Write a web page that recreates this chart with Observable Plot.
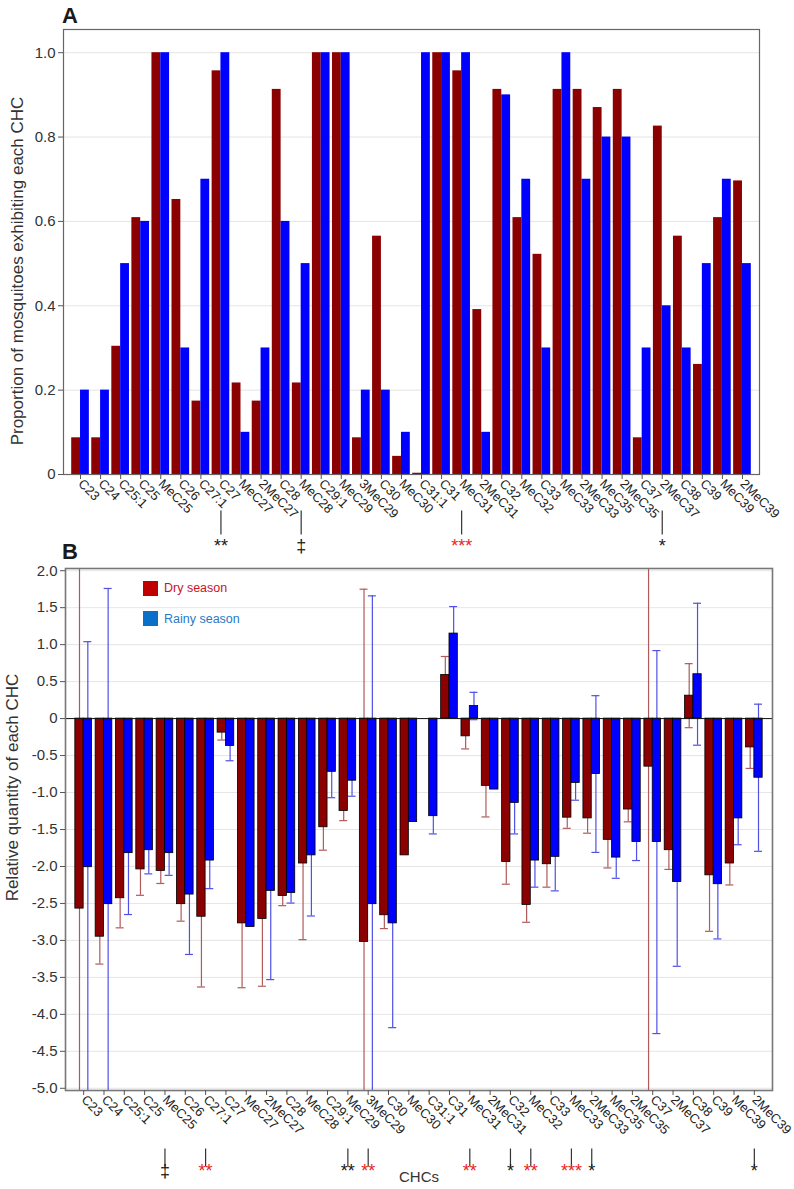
<!DOCTYPE html>
<html><head><meta charset="utf-8">
<script src="https://cdn.jsdelivr.net/npm/d3@7"></script>
<script src="https://cdn.jsdelivr.net/npm/@observablehq/plot@0.6"></script>
<style>
body{margin:0;background:#fff;font-family:"Liberation Sans",Arial,sans-serif;}
#wrap{position:relative;width:794px;height:1189px;overflow:hidden;background:#fff}
#wrap svg{display:block}
.panel{position:absolute;font-weight:bold;font-size:22px;color:#1a1a1a;line-height:1}
.leg{position:absolute;font-size:12.5px;line-height:1}
.sw{position:absolute;width:15px;height:15px}
</style></head><body>
<div id="wrap"></div>
<script>
// ---------- data ----------
const chc = ["C23","C24","C25:1","C25","MeC25","C26","C27:1","C27","MeC27","2MeC27","C28","MeC28","C29:1","MeC29","3MeC29","C30","MeC30","C31:1","C31","MeC31","2MeC31","C32","MeC32","C33","MeC33","2MeC33","MeC35","2MeC35","C37","2MeC37","C38","C39","MeC39","2MeC39"];

// Panel A: proportion of mosquitoes exhibiting each CHC
const dryA   = [0.087,0.087,0.304,0.609,1.0,0.652,0.174,0.957,0.217,0.174,0.913,0.217,1.0,1.0,0.087,0.565,0.043,0.003,1.0,0.957,0.391,0.913,0.609,0.522,0.913,0.913,0.870,0.913,0.087,0.826,0.565,0.261,0.609,0.696];
const rainyA = [0.2,0.2,0.5,0.6,1.0,0.3,0.7,1.0,0.1,0.3,0.6,0.5,1.0,1.0,0.2,0.2,0.1,1.0,1.0,1.0,0.1,0.9,0.7,0.3,1.0,0.7,0.8,0.8,0.3,0.4,0.3,0.5,0.7,0.5];

// Panel B: relative quantity (mean and error)
const dryB      = [-2.57,-2.95,-2.43,-2.04,-2.06,-2.51,-2.68,-0.19,-2.77,-2.71,-2.40,-1.96,-1.47,-1.25,-3.02,-2.66,-1.85,null,0.59,-0.24,-0.91,-1.94,-2.52,-1.97,-1.34,-1.35,-1.64,-1.23,-0.65,-1.78,0.31,-2.12,-1.96,-0.39];
const dryErrB   = [4.8,0.37,0.40,0.35,0.17,0.23,0.95,0.10,0.87,0.91,0.13,1.03,0.31,0.13,4.77,0.18,0,null,0.25,0.17,0.42,0.30,0.235,0.31,0.144,0.20,0.38,0.166,4.6,0.26,0.433,0.757,0.29,0.284];
const rainyB    = [-2.01,-2.51,-1.82,-1.78,-1.82,-2.38,-1.92,-0.37,-2.82,-2.33,-2.36,-1.85,-0.72,-0.84,-2.51,-2.77,-1.40,-1.32,1.15,0.17,-0.96,-1.14,-1.92,-1.87,-0.87,-0.75,-1.88,-1.67,-1.67,-2.21,0.60,-2.24,-1.35,-0.80];
const rainyErrB = [3.05,4.27,0.83,0.32,0.30,0.81,0.38,0.20,0,1.20,0.135,0.82,0.35,0.21,4.17,1.41,0,0.24,0.365,0.185,0,0.42,0.36,0.46,0.234,1.06,0.28,0.25,2.59,1.14,0.96,0.74,0.356,0.995];

const yTicksA = [0, 0.2, 0.4, 0.6, 0.8, 1.0];
const yTicksB = [-5.0,-4.5,-4.0,-3.5,-3.0,-2.5,-2.0,-1.5,-1.0,-0.5,0,0.5,1.0,1.5,2.0];

// significance annotations
const sigAChc   = ["C27","MeC28","MeC31","2MeC37"];
const sigAMark  = ["**","‡","***","*"];
const sigARed   = [false,false,true,false];
const sigBChc   = ["MeC25","C27:1","MeC29","3MeC29","MeC31","C32","MeC32","MeC33","2MeC33","2MeC39"];
const sigBMark  = ["‡","**","**","**","**","*","**","***","*","*"];
const sigBRed   = [false,true,false,true,true,false,true,true,false,false];

const seriesNames = ["Dry season","Rainy season"];

// ---------- tables ----------
const dataA = chc.map((c,i)=>({chc:c, dry:dryA[i], rainy:rainyA[i]}));
const dataB = chc.map((c,i)=>({chc:c, dry:dryB[i], dryErr:dryErrB[i], rainy:rainyB[i], rainyErr:rainyErrB[i]}));
const RED_SIG = "#e8251f", BLACK_SIG = "#1a1a1a";
const sigA = sigAChc.map((c,i)=>({chc:c, mark:sigAMark[i], color: sigARed[i]?RED_SIG:BLACK_SIG}));
const sigB = sigBChc.map((c,i)=>({chc:c, mark:sigBMark[i], color: sigBRed[i]?RED_SIG:BLACK_SIG}));

const DRY = "#8b0000", RAINY = "#0000ff";
const fmt = d => d === 0 ? "0" : d.toFixed(1);
const vline = {draw(ctx, size){ const h = Math.sqrt(size/Math.PI); ctx.moveTo(0,-h); ctx.lineTo(0,h); }};
const font = {fontFamily:'"Liberation Sans", Arial, sans-serif', fontSize:"13px", color:"#222", background:"#fff", overflow:"visible"};

// ---------- panel A ----------
const W = 794;
const A = {h:556, ml:63, mr:35, mt:29, mb:82, inset:7, pi:0.12, po:0.06};
const bwA = ((W-A.mr-A.inset)-(A.ml+A.inset)) / (chc.length - A.pi + 2*A.po) * (1-A.pi);

const plotA = Plot.plot({
  width: W, height: A.h,
  marginLeft: A.ml, marginRight: A.mr, marginTop: A.mt, marginBottom: A.mb,
  style: font,
  x: {domain: chc, paddingInner: A.pi, paddingOuter: A.po, insetLeft: A.inset, insetRight: A.inset, round: false, label: null},
  y: {domain: [0, 1.055], label: null},
  color: {type: "identity"},
  marks: [
    Plot.gridY({ticks: yTicksA.filter(d=>d>0), stroke:"#cfcfcf", strokeOpacity: 0.55}),
    Plot.barY(dataA, {x:"chc", y:"dry", fill: DRY, insetRight: bwA/2}),
    Plot.barY(dataA, {x:"chc", y:"rainy", fill: RAINY, insetLeft: bwA/2}),
    Plot.frame({stroke:"#666", strokeWidth:1.2}),
    Plot.axisY({ticks: yTicksA, tickFormat: fmt, tickSize: 5, tickPadding: 3, fontSize: 15, label: null, stroke:"#555", fill:"#333"}),
    Plot.axisX({tickRotate: 45, tickSize: 5, tickPadding: 2, fontSize: 13, label: null, stroke:"#555", fill:"#222"}),
    Plot.text(["Proportion of mosquitoes exhibiting each CHC"], {text: d=>d, frameAnchor:"left", textAnchor:"middle", rotate:-90, dx:-46, dy:19, fontSize:17, fill:"#333"}),
    Plot.dot(sigA, {x:"chc", frameAnchor:"bottom", dy:48, symbol: vline, r:12, fill:"none", stroke:"#333", strokeWidth:1.2}),
    Plot.text(sigA, {x:"chc", frameAnchor:"bottom", dy:77, text:"mark", fill:"color", fontSize:18})
  ]
});

// ---------- panel B ----------
const B = {h:633, ml:65, mr:22, mt:12, mb:99, inset:8, pi:0.18, po:0.09};
const bwB = ((W-B.mr-B.inset)-(B.ml+B.inset)) / (chc.length - B.pi + 2*B.po) * (1-B.pi);
const q = bwB/4, capHalf = 4;
const errDry = dataB.filter(d=>d.dry!=null && d.dryErr>0);
const errRainy = dataB.filter(d=>d.rainy!=null && d.rainyErr>0);
const ERR_DRY = "#b05a5a", ERR_RAINY = "#5050e6";
const capInset = bwB/2 - capHalf;

const plotB = Plot.plot({
  width: W, height: B.h,
  marginLeft: B.ml, marginRight: B.mr, marginTop: B.mt, marginBottom: B.mb,
  style: font,
  x: {domain: chc, paddingInner: B.pi, paddingOuter: B.po, insetLeft: B.inset, insetRight: B.inset, round: false, label: null},
  y: {domain: [-5.03, 2.03], label: null},
  color: {type: "identity"},
  marks: [
    Plot.gridY({ticks: yTicksB, stroke:"#cfcfcf", strokeOpacity: 0.55}),
    // error bars (behind bars)
    Plot.ruleX(errDry, {x:"chc", y1: d=>d.dry-d.dryErr, y2: d=>d.dry+d.dryErr, dx:-q, stroke: ERR_DRY, strokeWidth:1.2, clip:true}),
    Plot.ruleX(errRainy, {x:"chc", y1: d=>d.rainy-d.rainyErr, y2: d=>d.rainy+d.rainyErr, dx:q, stroke: ERR_RAINY, strokeWidth:1.2, clip:true}),
    Plot.tickY(errDry, {x:"chc", y: d=>d.dry-d.dryErr, dx:-q, insetLeft:capInset, insetRight:capInset, stroke: ERR_DRY, strokeWidth:1.2, clip:true}),
    Plot.tickY(errDry, {x:"chc", y: d=>d.dry+d.dryErr, dx:-q, insetLeft:capInset, insetRight:capInset, stroke: ERR_DRY, strokeWidth:1.2, clip:true}),
    Plot.tickY(errRainy, {x:"chc", y: d=>d.rainy-d.rainyErr, dx:q, insetLeft:capInset, insetRight:capInset, stroke: ERR_RAINY, strokeWidth:1.2, clip:true}),
    Plot.tickY(errRainy, {x:"chc", y: d=>d.rainy+d.rainyErr, dx:q, insetLeft:capInset, insetRight:capInset, stroke: ERR_RAINY, strokeWidth:1.2, clip:true}),
    Plot.barY(dataB.filter(d=>d.dry!=null), {x:"chc", y:"dry", fill: DRY, stroke:"#000", strokeWidth:0.8, insetRight: bwB/2}),
    Plot.barY(dataB, {x:"chc", y:"rainy", fill: RAINY, stroke:"#000", strokeWidth:0.8, insetLeft: bwB/2}),
    Plot.ruleY([0], {stroke:"#111", strokeWidth:1}),
    Plot.frame({stroke:"#777", strokeWidth:1.6}),
    Plot.axisY({ticks: yTicksB, tickFormat: fmt, tickSize: 5, tickPadding: 3, fontSize: 15, label: null, stroke:"#555", fill:"#333"}),
    Plot.axisX({tickRotate: 45, tickSize: 5, tickPadding: 2, fontSize: 13, label: null, stroke:"#555", fill:"#222"}),
    Plot.text(["Relative quantity of each CHC"], {text: d=>d, frameAnchor:"left", textAnchor:"middle", rotate:-90, dx:-53, dy:-42, fontSize:17, fill:"#333"}),
    Plot.text(["CHCs"], {text: d=>d, frameAnchor:"bottom", dy:91, fontSize:15, fill:"#333"}),
    Plot.dot(sigB, {x:"chc", frameAnchor:"bottom", dy:67, symbol: vline, r:9, fill:"none", stroke:"#333", strokeWidth:1.2}),
    Plot.text(sigB, {x:"chc", frameAnchor:"bottom", dy:86, text:"mark", fill:"color", fontSize:18})
  ]
});

// ---------- assemble ----------
const wrap = document.getElementById("wrap");
wrap.appendChild(plotA);
wrap.appendChild(plotB);
function add(cls, text, css){ const e=document.createElement("div"); e.className=cls; if(text) e.textContent=text; Object.assign(e.style, css); wrap.appendChild(e); return e; }
add("panel","A",{left:"62px", top:"5px"});
add("panel","B",{left:"62px", top:"541px"});
add("sw","",{left:"143px", top:"581px", background:"#c00000"});
add("leg",seriesNames[0],{left:"164px", top:"582px", color:"#c8141c"});
add("sw","",{left:"143px", top:"611px", background:"#0a6fc8"});
add("leg",seriesNames[1],{left:"164px", top:"613px", color:"#2a78c8"});
</script></body></html>
